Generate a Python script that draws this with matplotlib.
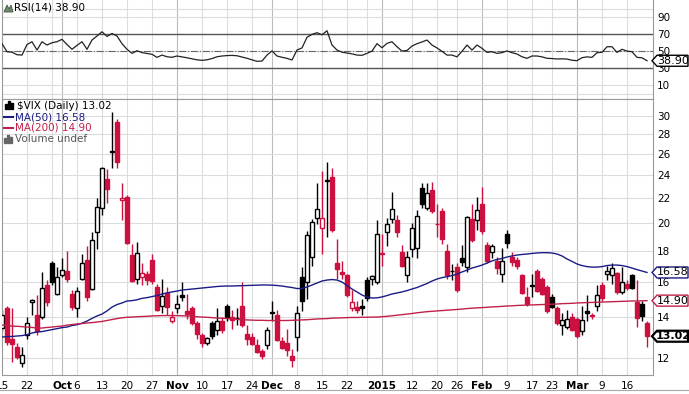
import numpy as np
import matplotlib
matplotlib.use('Agg')
import matplotlib.pyplot as plt
from matplotlib.patches import Polygon, Rectangle
from matplotlib.lines import Line2D
from matplotlib.ticker import NullLocator

W, H = 689, 394

# one candle per trading day, Sep 15 2014 .. Mar 20 2015
opens = [13.45, 14.5, 12.9, 12.5, 11.75, 13.1, 14.85, 14.1, 14.0, 15.8,
         17.2, 15.3, 16.4, 16.7, 15.3, 14.5, 16.2, 17.4, 15.6, 19.3,
         21.2, 23.6, 26.2, 29.3, 21.8, 22.1, 17.7, 16.2, 16.3, 16.5,
         17.4, 15.7, 14.6, 15.35, 13.8, 14.5, 15.25, 14.35, 14.5, 13.7,
         13.1, 12.7, 13.7, 13.35, 13.8, 14.6, 14.0, 13.93, 14.6, 13.15,
         13.0, 12.6, 12.3, 12.6, 14.2, 14.1, 12.8, 12.7, 12.1, 13.0,
         16.3, 16.0, 17.6, 20.4, 19.6, 23.45, 23.8, 17.2, 16.6, 16.4,
         14.5, 14.55, 14.6, 16.1, 16.2, 16.0, 17.85, 19.3, 20.3, 20.2,
         17.9, 16.4, 18.1, 18.2, 22.8, 21.2, 22.7, 19.95, 20.9, 18.0,
         16.65, 16.9, 17.5, 16.9, 20.3, 20.2, 21.5, 18.4, 17.9, 17.3,
         16.5, 19.2, 17.6, 17.4, 16.4, 15.1, 15.75, 16.7, 16.2, 15.7,
         15.1, 14.5, 13.6, 13.5, 14.0, 13.9, 13.3, 14.3, 14.1, 14.6,
         15.8, 16.5, 16.4, 16.55, 15.4, 15.85, 16.4, 14.8, 14.7, 13.7]
highs = [14.4, 14.6, 14.5, 12.7, 12.5, 14.0, 15.0, 15.2, 16.6, 16.1,
         17.3, 16.9, 17.5, 18.0, 15.5, 15.7, 17.8, 18.3, 19.3, 22.0,
         24.7, 24.5, 30.5, 29.7, 23.3, 22.2, 18.5, 18.6, 17.2, 16.7,
         17.8, 15.9, 16.2, 15.7, 14.3, 15.2, 16.0, 15.3, 14.6, 13.8,
         13.2, 13.0, 13.8, 14.5, 14.0, 14.7, 14.4, 14.5, 16.0, 13.6,
         13.2, 12.9, 12.4, 13.5, 14.9, 14.4, 13.0, 13.4, 12.4, 14.6,
         16.9, 19.4, 20.3, 23.3, 24.4, 25.2, 24.6, 18.8, 17.3, 16.5,
         15.5, 14.9, 15.0, 16.3, 16.4, 20.2, 19.2, 20.4, 22.5, 20.6,
         18.4, 18.0, 20.0, 21.0, 23.3, 23.3, 23.4, 21.5, 21.2, 18.5,
         17.1, 17.2, 18.4, 20.5, 21.5, 22.1, 22.9, 18.6, 18.5, 17.6,
         18.2, 19.5, 17.9, 17.6, 16.5, 15.7, 16.5, 16.8, 16.3, 15.8,
         15.3, 14.6, 14.2, 14.4, 14.2, 14.0, 14.6, 15.2, 14.2, 15.8,
         16.0, 17.0, 17.2, 16.6, 16.9, 16.1, 16.5, 16.1, 14.9, 13.8]
lows = [13.3, 12.6, 11.8, 11.95, 11.6, 12.9, 14.1, 13.1, 13.9, 14.6,
        15.8, 15.2, 16.3, 16.0, 14.4, 14.0, 16.1, 14.9, 15.5, 18.1,
        20.6, 21.6, 24.6, 24.6, 20.2, 18.5, 16.0, 15.9, 15.8, 15.8,
        15.9, 14.3, 14.2, 14.1, 13.7, 14.2, 14.9, 13.9, 13.6, 12.9,
        12.5, 12.6, 12.9, 13.1, 13.2, 13.8, 13.4, 13.6, 13.5, 12.6,
        12.6, 12.2, 11.95, 12.4, 13.8, 12.8, 12.4, 12.1, 11.6, 12.3,
        14.3, 15.0, 17.0, 19.9, 17.8, 19.0, 19.3, 16.2, 16.2, 15.1,
        14.3, 14.2, 14.1, 14.9, 15.8, 15.9, 17.0, 18.3, 20.0, 19.0,
        16.9, 16.0, 17.6, 17.5, 21.2, 21.0, 20.8, 19.0, 18.5, 16.2,
        16.1, 15.4, 17.0, 16.6, 18.6, 19.5, 19.2, 17.2, 17.5, 16.5,
        16.0, 18.2, 17.0, 16.8, 15.3, 14.6, 15.1, 15.4, 15.2, 14.2,
        14.5, 13.6, 13.1, 13.4, 13.3, 12.95, 13.1, 13.8, 13.9, 14.3,
        14.9, 16.1, 15.9, 15.3, 15.3, 15.5, 15.6, 13.5, 13.8, 12.5]
closes = [14.12, 12.73, 12.65, 12.03, 12.11, 13.69, 14.93, 13.27, 15.64, 14.85,
          15.98, 16.31, 16.71, 16.16, 14.55, 15.46, 17.20, 15.11, 18.76, 21.24,
          24.64, 22.79, 26.25, 25.20, 21.99, 18.57, 16.08, 17.87, 16.53, 16.11,
          16.04, 14.39, 15.15, 14.52, 14.03, 14.73, 15.10, 14.17, 13.67, 13.12,
          12.67, 12.92, 13.02, 13.79, 13.31, 13.99, 13.86, 13.96, 13.58, 12.90,
          12.62, 12.25, 12.07, 13.33, 14.29, 12.85, 12.47, 12.38, 11.89, 14.21,
          14.89, 19.08, 20.08, 21.08, 20.42, 23.50, 19.44, 16.81, 16.49, 15.25,
          14.80, 14.37, 14.50, 15.06, 16.33, 19.20, 17.79, 19.92, 21.12, 19.31,
          17.01, 17.55, 19.60, 20.56, 21.48, 22.39, 20.95, 19.89, 18.85, 16.40,
          16.66, 15.52, 17.22, 20.44, 18.76, 20.97, 19.43, 17.33, 18.33, 16.85,
          17.29, 18.55, 17.23, 16.96, 15.34, 14.69, 15.80, 15.45, 15.29, 14.30,
          14.56, 13.69, 13.84, 13.91, 13.34, 13.04, 13.86, 14.23, 14.04, 15.20,
          15.06, 16.69, 16.87, 15.42, 16.00, 15.61, 15.66, 13.97, 14.07, 13.02]
prev_close = 13.31  # close of the day before the first candle (sets its colour)

ma50 = [12.98, 13.0, 13.01, 13.03, 13.05, 13.1, 13.18, 13.23, 13.25, 13.3,
        13.35, 13.4, 13.45, 13.48, 13.56, 13.6, 13.68, 13.79, 13.93, 14.06,
        14.16, 14.33, 14.54, 14.68, 14.77, 14.88, 14.9, 14.95, 15.03, 15.07,
        15.13, 15.19, 15.28, 15.34, 15.4, 15.45, 15.51, 15.54, 15.57, 15.6,
        15.63, 15.66, 15.69, 15.72, 15.74, 15.75, 15.75, 15.76, 15.77, 15.78,
        15.79, 15.8, 15.81, 15.81, 15.8, 15.78, 15.75, 15.7, 15.66, 15.6,
        15.6, 15.69, 15.81, 15.93, 16.05, 16.11, 16.14, 16.11, 15.99, 15.78,
        15.57, 15.4, 15.22, 15.11, 15.05, 15.06, 15.11, 15.19, 15.28, 15.34,
        15.4, 15.48, 15.57, 15.66, 15.78, 15.9, 16.05, 16.17, 16.26, 16.32,
        16.38, 16.48, 16.61, 16.73, 16.86, 16.95, 17.05, 17.18, 17.32, 17.42,
        17.48, 17.58, 17.65, 17.71, 17.75, 17.78, 17.82, 17.85, 17.87, 17.87,
        17.85, 17.78, 17.65, 17.45, 17.29, 17.12, 17.02, 16.95, 16.92, 16.92,
        16.95, 17.02, 17.05, 17.05, 17.02, 16.95, 16.86, 16.76, 16.67, 16.58]
ma200 = [13.58, 13.56, 13.53, 13.52, 13.5, 13.48, 13.46, 13.43, 13.43, 13.46,
         13.48, 13.51, 13.53, 13.58, 13.61, 13.64, 13.66, 13.69, 13.71, 13.74,
         13.77, 13.82, 13.87, 13.92, 13.96, 13.99, 14.0, 14.02, 14.03, 14.04,
         14.06, 14.07, 14.08, 14.08, 14.08, 14.08, 14.07, 14.06, 14.04, 14.02,
         14.0, 13.99, 13.97, 13.95, 13.94, 13.92, 13.9, 13.88, 13.86, 13.85,
         13.84, 13.83, 13.83, 13.82, 13.82, 13.82, 13.82, 13.82, 13.83, 13.84,
         13.85, 13.86, 13.88, 13.9, 13.91, 13.92, 13.94, 13.95, 13.96, 13.97,
         13.98, 13.98, 13.99, 13.99, 14.0, 14.0, 14.02, 14.04, 14.07, 14.1,
         14.13, 14.16, 14.19, 14.23, 14.26, 14.29, 14.31, 14.33, 14.35, 14.37,
         14.39, 14.41, 14.43, 14.46, 14.48, 14.5, 14.51, 14.53, 14.55, 14.56,
         14.58, 14.6, 14.61, 14.63, 14.64, 14.65, 14.66, 14.67, 14.68, 14.69,
         14.7, 14.71, 14.73, 14.74, 14.75, 14.77, 14.78, 14.79, 14.8, 14.81,
         14.82, 14.83, 14.84, 14.85, 14.86, 14.87, 14.88, 14.88, 14.89, 14.90]
rsi = [59, 49.5, 49, 46, 45.6, 58, 61.3, 51.5, 61.3, 57.4,
       60.1, 61.3, 64.1, 58, 52.4, 57, 61.3, 52.4, 63.3, 68,
       73, 67.5, 71, 68, 59, 52.4, 47.6, 50.7, 48.5, 47.5,
       46.5, 42.9, 45.6, 43.6, 43, 44.5, 43.5, 42.4, 41.2, 40,
       39.4, 40, 41.5, 43.6, 44.5, 45, 45.2, 44.8, 43.3, 41.8,
       40, 38.2, 38.6, 45.6, 50.5, 44.5, 43, 41.7, 39.8, 51.5,
       54, 66.5, 70, 71.9, 69.5, 74.2, 57.4, 51.5, 49, 48,
       47, 45.6, 45.3, 47.6, 50.3, 59, 54.2, 59.4, 61.3, 55.4,
       50.3, 51, 56.2, 59, 61, 63.3, 57.4, 54, 50, 45.6,
       45.6, 43.5, 50, 57.4, 51.5, 57.4, 53.5, 48.8, 49.5, 47.6,
       48.4, 50.5, 48.4, 46.8, 43.6, 41.8, 44.5, 44.5, 43.5, 41.8,
       41.5, 41, 41.2, 40.9, 39.5, 39, 42.5, 43.5, 42.9, 48.4,
       48.8, 55.4, 55.4, 48.8, 52.4, 50.3, 49.5, 42.9, 42.4, 38.9]

tick_days = [0, 5, 12, 15, 20, 25, 30, 35, 40, 45, 50, 54, 59, 64, 69, 76,
             82, 87, 91, 96, 101, 106, 110, 115, 120, 125]
tick_labels = ['15', '22', 'Oct', '6', '13', '20', '27', 'Nov', '10', '17', '24',
               'Dec', '8', '15', '22', '2015', '12', '20', '26', 'Feb', '9', '17',
               '23', 'Mar', '9', '16']
month_labels = ['Oct', 'Nov', 'Dec', '2015', 'Feb', 'Mar']
extra_grid_days = [10, 73]
price_ticks = [12, 14, 16, 18, 20, 22, 24, 26, 28, 30]
rsi_ticks = [90, 70, 50, 30, 10]

RED = '#cc1040'
NAVY = '#1c1c86'
CRIMSON = '#c0204a'
GRID = '#dcdcdc'
MGRID = '#bcbcbc'
FS = 7.5

fig = plt.figure(figsize=(W / 100, H / 100), dpi=100)
ax_rsi = fig.add_axes([2 / W, 1 - 99 / H, 651 / W, 99 / H])
ax = fig.add_axes([2 / W, 1 - 375 / H, 651 / W, 276 / H])

x = np.arange(len(closes))
o = np.array(opens)
c = np.array(closes)
pc = np.concatenate([[prev_close], c[:-1]])
cols = np.where(c >= pc, 'black', RED)
faces = np.where(c > o, 'white', cols)

# grid
for a in (ax, ax_rsi):
    for d in tick_days + extra_grid_days:
        lab = tick_labels[tick_days.index(d)] if d in tick_days else ''
        a.axvline(d, color=MGRID if lab in month_labels else GRID, lw=0.8, zorder=0)
for p in price_ticks:
    ax.axhline(p, color=GRID, lw=0.8, zorder=0)
for r in [0, 10, 30, 50, 70, 90, 100]:
    ax_rsi.axhline(r, color=GRID, lw=0.8, zorder=0)

# candles
ax.vlines(x, lows, highs, colors=cols, lw=1, zorder=2)
ax.bar(x, np.abs(c - o), bottom=np.minimum(o, c), width=0.8, color=faces,
       edgecolor=cols, linewidth=1, zorder=3)
ax.plot(x, ma50, color=NAVY, lw=1, zorder=4)
ax.plot(x, ma200, color=CRIMSON, lw=1, zorder=4)

ax.set_yscale('log')
ax.set_ylim(11.24, 32.0)
ax.set_xlim(0, 130.2)
ax.yaxis.tick_right()
ax.yaxis.set_minor_locator(NullLocator())
ax.set_yticks(price_ticks)
ax.set_yticklabels([str(p) for p in price_ticks])
ax.set_xticks(tick_days)
ax.set_xticklabels(tick_labels)
for t in ax.get_xticklabels():
    if t.get_text() in month_labels:
        t.set_fontweight('bold')
ax.tick_params(axis='both', length=0, labelsize=FS)
ax.tick_params(axis='y', pad=3)
ax.tick_params(axis='x', pad=4)

# RSI panel
ax_rsi.plot(x, rsi, color='#222222', lw=0.9, zorder=3)
ax_rsi.axhline(70, color='#555555', lw=1, zorder=1)
ax_rsi.axhline(30, color='#555555', lw=1, zorder=1)
ax_rsi.axhline(50, color='#666666', lw=0.8, ls='-.', zorder=1)
ax_rsi.set_ylim(-6.1, 110.4)
ax_rsi.set_xlim(0, 130.2)
ax_rsi.yaxis.tick_right()
ax_rsi.set_yticks(rsi_ticks)
ax_rsi.set_xticks([])
ax_rsi.tick_params(axis='y', length=0, labelsize=FS, pad=3)

for a in (ax, ax_rsi):
    for s in a.spines.values():
        s.set_color('#999999')
        s.set_linewidth(0.8)
ax_rsi.spines['top'].set_visible(False)

# bottom edge of the next panel
fig.add_artist(Line2D([0, 1], [4 / H, 4 / H], color='#aaaaaa', lw=0.8))

# legend texts
def ftext(px, py, s, color='black', **kw):
    fig.text(px / W, 1 - py / H, s, color=color, fontsize=FS, va='center', ha='left', **kw)

ftext(14, 8, 'RSI(14) 38.90')
fig.add_artist(Polygon([(4 / W, 1 - 12 / H), (7 / W, 1 - 5 / H), (9 / W, 1 - 9 / H),
                        (11 / W, 1 - 5 / H), (13 / W, 1 - 12 / H)], closed=True,
                       transform=fig.transFigure, facecolor='#6b8a6b', edgecolor='#445544', lw=0.6))
ftext(17, 106, '$VIX (Daily) 13.02')
for k, hh in enumerate([5, 8, 6]):
    fig.add_artist(Rectangle(((5 + 3 * k) / W, 1 - (109) / H), 2 / W, hh / H,
                             transform=fig.transFigure, color='black'))
ftext(15, 117, 'MA(50) 16.58', NAVY)
fig.add_artist(Line2D([4 / W, 13 / W], [1 - 117 / H, 1 - 117 / H], color=NAVY, lw=1.5))
ftext(15, 128, 'MA(200) 14.90', CRIMSON)
fig.add_artist(Line2D([4 / W, 13 / W], [1 - 128 / H, 1 - 128 / H], color=CRIMSON, lw=1.5))
ftext(15, 139, 'Volume undef', '#555555')
for k, hh in enumerate([5, 8, 6]):
    fig.add_artist(Rectangle(((4 + 3 * k) / W, 1 - 143 / H), 2 / W, hh / H,
                             transform=fig.transFigure, color='#666666'))

# value tags on the right
def tag(a, val, txt, edge, lw=1.0, bold=False):
    yc = a.transData.transform((0, val))[1] / H
    x0, x1, x2 = 652 / W, 657 / W, 688 / W
    hh = 5.5 / H
    pts = [(x0, yc), (x1, yc + hh), (x2, yc + hh), (x2, yc - hh), (x1, yc - hh)]
    fig.add_artist(Polygon(pts, closed=True, transform=fig.transFigure,
                           facecolor='white', edgecolor=edge, lw=lw, zorder=5))
    fig.text((x1 + x2) / 2 + 0.5 / W, yc, txt, fontsize=FS + 0.5, ha='center', va='center',
             fontweight='bold' if bold else 'normal', zorder=6)

tag(ax_rsi, rsi[-1], '38.90', 'black')
tag(ax, ma50[-1], '16.58', NAVY)
tag(ax, ma200[-1], '14.90', CRIMSON)
tag(ax, closes[-1], '13.02', 'black', lw=1.6, bold=True)

fig.savefig('out.png', dpi=100, facecolor='white')
